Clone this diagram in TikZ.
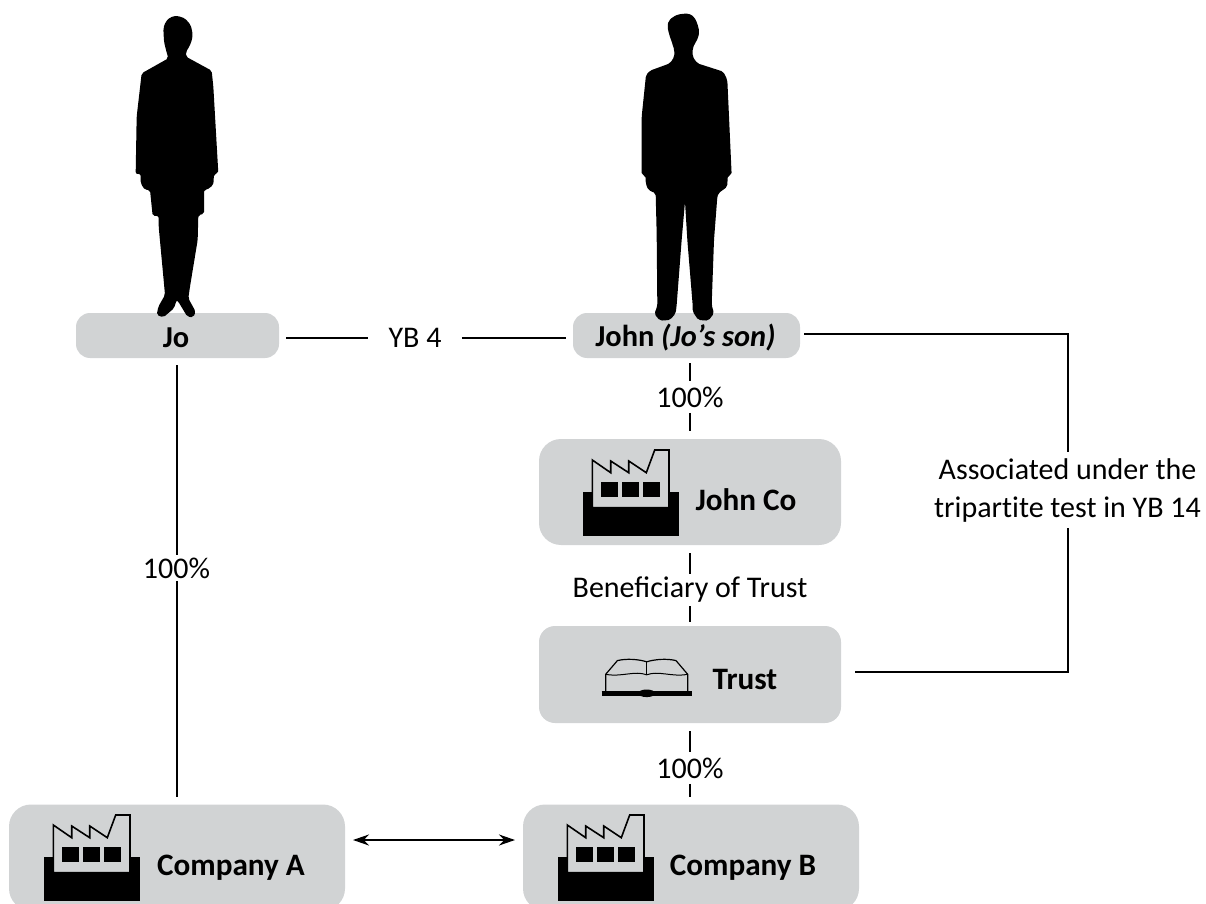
\documentclass[tikz,border=0pt]{standalone}
\usepackage{fontspec}
\setmainfont{Carlito}
\usetikzlibrary{arrows.meta}

\tikzset{
    factory/.pic={
        \fill[black] (0,0) rectangle (96,-44.3);
        \draw[fill=boxgray, line width=0.8pt, miter limit=3] (9.3,-28.3) -- (9.3,-76) -- (27.7,-63.3) -- (27.7,-75) -- (45.7,-63.3) -- (45.7,-75) -- (63.3,-63.3) -- (71.7,-86) -- (86,-86) -- (86,-28.3) -- cycle;
        \fill[black] (18.3,-54.3) rectangle (35,-39.3);
        \fill[black] (39.3,-54.3) rectangle (56,-39.3);
        \fill[black] (60,-54.3) rectangle (76.7,-39.3);
    },
    openbook/.pic={
        \draw[line width=2.2pt] (-45,0.3) -- (45,0.3);
        \fill[black] (0,0) ellipse (8.5 and 3.8);
        \draw[line width=0.6pt] (-41,-1) -- (-41,-19) -- (-29.3,-32.7) .. controls (-20,-35) and (-8,-34) .. (0,-31.5) .. controls (8,-34) and (20,-35) .. (29.3,-32.7) -- (41,-19) -- (41,-1);
        \draw[line width=0.5pt] (-41,-19) .. controls (-25,-16) and (-12,-23) .. (0,-18.5) .. controls (12,-23) and (25,-16) .. (41,-19);
        \draw[line width=0.5pt] (0,-31.5) -- (0,-18.5);
    }
}
\definecolor{boxgray}{HTML}{D1D3D4}

\begin{document}
\begin{tikzpicture}[x=0.5pt, y=-0.5pt, font=\fontsize{15}{19}\selectfont]
    \tikzstyle{namebox} = [rectangle, fill=boxgray, rounded corners=7pt, inner sep=0pt, outer sep=3.5pt, minimum height=22.5pt]
    \tikzstyle{firmbox} = [rectangle, fill=boxgray, rounded corners=11pt, inner sep=0pt, outer sep=4pt]
    \tikzstyle{nametext} = [inner sep=0pt, font=\fontsize{15.2}{19}\selectfont\bfseries]
    \tikzstyle{boxtext} = [inner sep=0pt, font=\fontsize{15.6}{19}\selectfont\bfseries]
    \tikzstyle{linklabel} = [inner xsep=1pt, inner ysep=1pt]
    \tikzstyle{link} = [line width=1pt]

    \useasboundingbox (0,0) rectangle (1206,904);

    % Name boxes
    \node[namebox, minimum width=101.5pt] (jo) at (177.5,335.5) {};
    \node[namebox, minimum width=113.5pt] (john) at (686.5,335.5) {};

    % Firm boxes
    \node[firmbox, minimum width=151pt, minimum height=53pt] (johnco) at (690,492) {};
    \node[firmbox, minimum width=151pt, minimum height=48.5pt, rounded corners=8pt] (trust) at (690,674.5) {};
    \node[firmbox, minimum width=168pt, minimum height=53pt] (compa) at (177,857.5) {};
    \node[firmbox, minimum width=168pt, minimum height=53pt] (compb) at (691,857.5) {};

    % Box texts
    \node[nametext] (jotext) at (176,338) {Jo};
    \node[nametext] (johntext) at (685.5,338) {John \textit{(Jo's son)}};
    \node[boxtext] (johncotext) at (746,500) {John Co};
    \node[boxtext] (trusttext) at (745,679) {Trust};
    \node[boxtext] (compatext) at (231,868) {Company A};
    \node[boxtext] (compbtext) at (743,868) {Company B};

    % Icons
    \pic (johncoicon) at (583,536) {factory};
    \pic (compaicon) at (44,901) {factory};
    \pic (compbicon) at (558,901) {factory};
    \pic (trusticon) at (646.7,693.3) {openbook};

    % Jo
    \fill[shift={(100,0)}, scale=1/3, rounded corners=1pt] (230,47) -- (255,55) -- (272,75) -- (278,100) -- (276,120) -- (268,140) -- (258,155) -- (258,170) -- (335,212) -- (340,260) -- (355,520) -- (342,522) -- (340,555) -- (320,570) -- (312,570) -- (312,642) -- (295,645) -- (293,720) -- (270,860) -- (265,895) -- (287,935) -- (280,952) -- (262,950) -- (235,905) -- (230,900) -- (222,925) -- (190,952) -- (170,945) -- (175,920) -- (195,885) -- (190,830) -- (176,680) -- (176,648) -- (158,648) -- (150,570) -- (135,570) -- (122,550) -- (122,522) -- (107,522) -- (110,350) -- (125,220) -- (205,175) -- (198,150) -- (192,125) -- (190,85) -- (197,65) -- (210,52) -- cycle;

    % John
    \fill[shift={(610,0)}, scale=1/3, rounded corners=1pt] (235,40) -- (252,50) -- (262,70) -- (268,95) -- (264,115) -- (255,130) -- (248,145) -- (248,170) -- (262,190) -- (340,215) -- (352,240) -- (365,525) -- (353,527) -- (352,560) -- (325,580) -- (322,590) -- (312,720) -- (305,915) -- (312,940) -- (295,962) -- (265,960) -- (248,935) -- (248,915) -- (232,720) -- (225,605) -- (215,720) -- (200,915) -- (197,940) -- (180,960) -- (150,962) -- (133,942) -- (142,918) -- (140,700) -- (137,580) -- (115,570) -- (107,550) -- (107,527) -- (95,525) -- (95,350) -- (108,225) -- (120,212) -- (180,190) -- (193,170) -- (193,150) -- (185,125) -- (178,105) -- (172,80) -- (176,62) -- (190,50) -- (205,43) -- cycle;

    % Labels
    \node[linklabel, inner xsep=10pt] (yb) at (415,338) {YB 4};
    \node[linklabel] (joshare) at (176.5,568) {100\%};
    \node[linklabel, inner ysep=2.5pt] (johnshare) at (690,397) {100\%};
    \node[linklabel, inner ysep=1.5pt] (benef) at (690,590) {Beneficiary of Trust};
    \node[linklabel, inner ysep=2.5pt] (trustshare) at (690,768) {100\%};
    \node[linklabel, align=center, inner ysep=3pt] (assoc) at (1067.5,490) {Associated under the\\tripart\kern0pt ite test in YB 14};

    % Connectors
    \draw[link] (jo.east |- yb) -- (yb);
    \draw[link] (yb) -- (john.west |- yb);
    \draw[link] (joshare |- jo.south) -- (joshare);
    \draw[link] (joshare) -- (joshare |- compa.north);
    \draw[link, shorten <=-1pt] (johnshare |- john.south) -- (johnshare);
    \draw[link] (johnshare) -- (johnco);
    \draw[link] (johnco) -- (benef);
    \draw[link, shorten >=-2pt] (benef) -- (trust);
    \draw[link] (trust) -- (trustshare);
    \draw[link] (trustshare) -- (trustshare |- compb.north);
    \draw[link, shorten <=-1.5pt] ([yshift=0.75pt]john.east) -| (assoc);
    \draw[link, shorten <=3pt] ([yshift=1.25pt]trust.east) -| (assoc);
    \draw[link, {Stealth[length=8pt,width=5.5pt]}-{Stealth[length=8pt,width=5.5pt]}] ([yshift=8.75pt]compa.east) -- ([yshift=8.75pt]compb.west);
\end{tikzpicture}
\end{document}
